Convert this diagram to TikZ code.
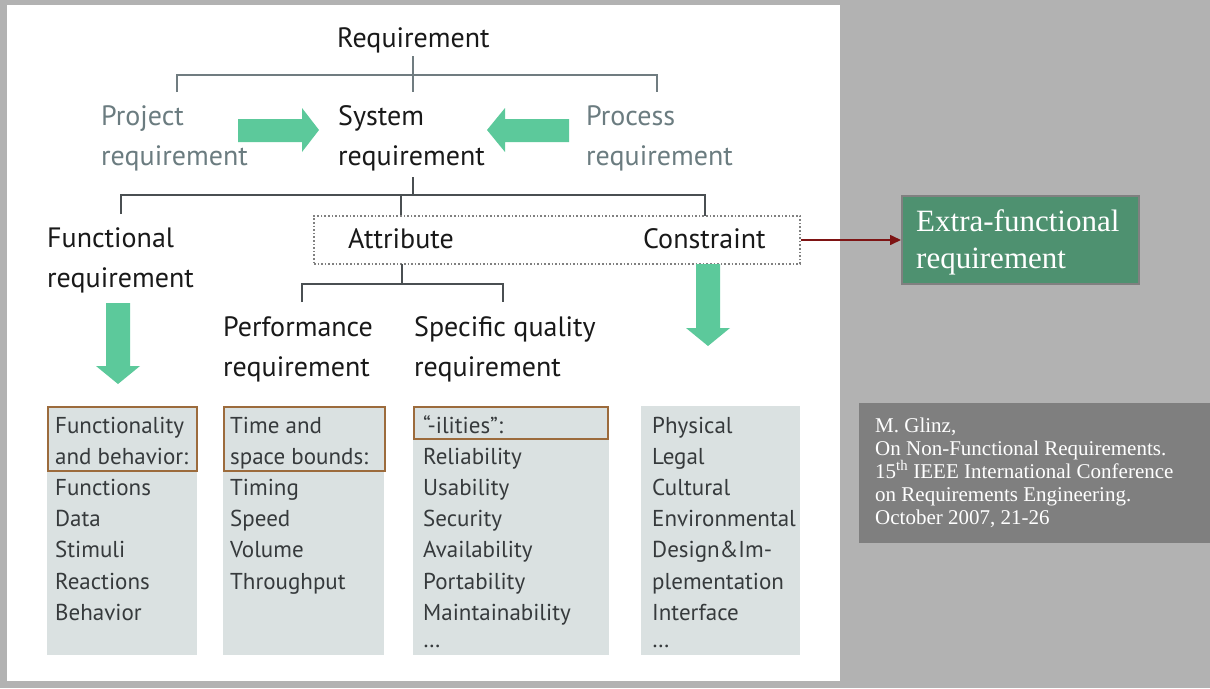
\documentclass[tikz,border=0pt]{standalone}
\usepackage{fontspec}
\setmainfont{PT Sans}
\newfontfamily\seriffont{Liberation Serif}
\usetikzlibrary{arrows.meta}
\definecolor{bg}{HTML}{B2B2B2}
\definecolor{grn}{HTML}{5CC99B}
\definecolor{boxfill}{HTML}{DAE1E1}
\definecolor{hdrbrown}{HTML}{9C6B3C}
\definecolor{darkred}{HTML}{7E1414}
\definecolor{extra}{HTML}{4E9170}
\definecolor{citegray}{HTML}{7F7F7F}
\definecolor{graytxt}{HTML}{6B7C80}
\definecolor{treeline}{HTML}{4A4F52}
\definecolor{treelight}{HTML}{707C80}
\definecolor{listtxt}{HTML}{363A3C}
\begin{document}
\begin{tikzpicture}[x=1pt,y=-1pt,
  lbl/.style={inner sep=0pt, anchor=base west, align=left, text=black!90,
    font=\fontsize{28}{40}\selectfont},
  glbl/.style={lbl, text=graytxt},
  listtext/.style={inner sep=0pt, anchor=base west, align=left, text=listtxt,
    font=\fontsize{23}{31.2}\selectfont},
  tree/.style={draw=treeline, line width=1.4pt},
  treetop/.style={draw=treelight, line width=1.3pt},
  listbox/.style={fill=boxfill},
  hdr/.style={draw=hdrbrown, line width=2.6pt},
  bigarrow/.style={fill=grn},
]
\useasboundingbox (0,0) rectangle (1210,688);
\fill[bg] (0,0) rectangle (1210,688);
\fill[white] (7,5) rectangle (840,681);

% ---- labels (base anchor = baseline of the last line)
\node[lbl] (req) at (337,47) {Requirement};
\node[glbl] (proj) at (101,165) {Project\\requirement};
\node[lbl] (sys) at (338,165) {System\\requirement};
\node[glbl] (proc) at (586,165) {Process\\requirement};
\node[lbl] (func) at (47,287) {Functional\\requirement};
\node[lbl] (attr) at (348,248) {Attribute};
\node[lbl] (cons) at (643,248) {Constraint};
\node[lbl] (perf) at (223,376) {Performance\\requirement};
\node[lbl] (spec) at (414,376) {Specific quality\\requirement};

% ---- tree coordinates
\coordinate (r0) at (413,56);
\coordinate (r1) at (413,92);
\coordinate (rl) at (177,75);
\coordinate (rr) at (657,75);
\coordinate (rl1) at (177,92);
\coordinate (rr1) at (657,92);
\draw[treetop] (r0) -- (r1);
\draw[treetop] (rl1) -- (rl) -- (rr) -- (rr1);

\coordinate (s0) at (413,177);
\coordinate (s1) at (413,195);
\coordinate (sl) at (121,195);
\coordinate (sr) at (705,195);
\coordinate (sl1) at (121,214);
\coordinate (sm) at (401,195);
\coordinate (sm1) at (401,216);
\coordinate (sr1) at (705,216);
\draw[tree] (s0) -- (s1);
\draw[tree] (sl1) -- (sl) -- (sr) -- (sr1);
\draw[tree] (sm) -- (sm1);

% dotted group box
\node[draw=black!50, dotted, line width=1.6pt, minimum width=486pt, minimum height=48pt,
  inner sep=0pt] (grp) at (557,240) {};

\coordinate (a0) at (402,264);
\coordinate (a1) at (402,284);
\coordinate (al) at (302,284);
\coordinate (ar) at (503,284);
\coordinate (al1) at (302,302);
\coordinate (ar1) at (503,302);
\draw[tree] (a0) -- (a1);
\draw[tree] (al1) -- (al) -- (ar) -- (ar1);

% ---- green block arrows
\fill[bigarrow] (238,119) -- (302,119) -- (302,108) -- (319,130) -- (302,152) -- (302,142) -- (238,142) -- cycle;
\fill[bigarrow] (569,119) -- (505,119) -- (505,108) -- (487,130) -- (505,152) -- (505,142) -- (569,142) -- cycle;
\fill[bigarrow] (106,303) -- (130,303) -- (130,366) -- (140,366) -- (118,384) -- (96,366) -- (106,366) -- cycle;
\fill[bigarrow] (696,264) -- (720,264) -- (720,328) -- (730,328) -- (708,346) -- (686,328) -- (696,328) -- cycle;

% ---- extra-functional box
\node[fill=extra, draw=black!50, line width=2pt, minimum width=237pt, minimum height=88pt,
  inner sep=0pt] (xbox) at (1020.5,240) {};
\node[inner sep=0pt, anchor=base west, align=left, text=white,
  font=\seriffont\fontsize{31}{37}\selectfont] (xtxt) at (916,268) {Extra-functional\\requirement};
\draw[darkred, line width=1.6pt, -{Triangle[length=11pt,width=10pt]}] (grp.east) -- (xbox.west);

% ---- list boxes
\fill[listbox] (47,406) rectangle (197,655);
\fill[listbox] (223,406) rectangle (384,655);
\fill[listbox] (413,406) rectangle (609,655);
\fill[listbox] (641,406) rectangle (800,655);
\draw[hdr] (48,407) rectangle (197,471);
\draw[hdr] (224,407) rectangle (385,471);
\draw[hdr] (414,407) rectangle (608,439);

\node[listtext] (l1) at (55,620.2) {Functionality\\and behavior:\\Functions\\Data\\Stimuli\\Reactions\\Behavior};
\node[listtext] (l2) at (230,589) {Time and\\space bounds:\\Timing\\Speed\\Volume\\Throughput};
\node[listtext] (l3) at (423,647) {“-ilities”:\\Reliability\\Usability\\Security\\Availability\\Portability\\Maintainability\\[-4.4pt]…};
\node[listtext] (l4) at (652,647) {Physical\\Legal\\Cultural\\Environmental\\Design\&Im-\\plementation\\Interface\\[-4.4pt]…};

% ---- citation
\fill[citegray] (859,403) rectangle (1210,543);
\node[inner sep=0pt, anchor=base west, align=left, text=white,
  font=\seriffont\fontsize{21}{23}\selectfont] (cite) at (875,524)
  {M. Glinz,\\On Non-Functional Requirements.\\15\textsuperscript{th} IEEE International Conference\\on Requirements Engineering.\\October 2007, 21-26};
\end{tikzpicture}
\end{document}
